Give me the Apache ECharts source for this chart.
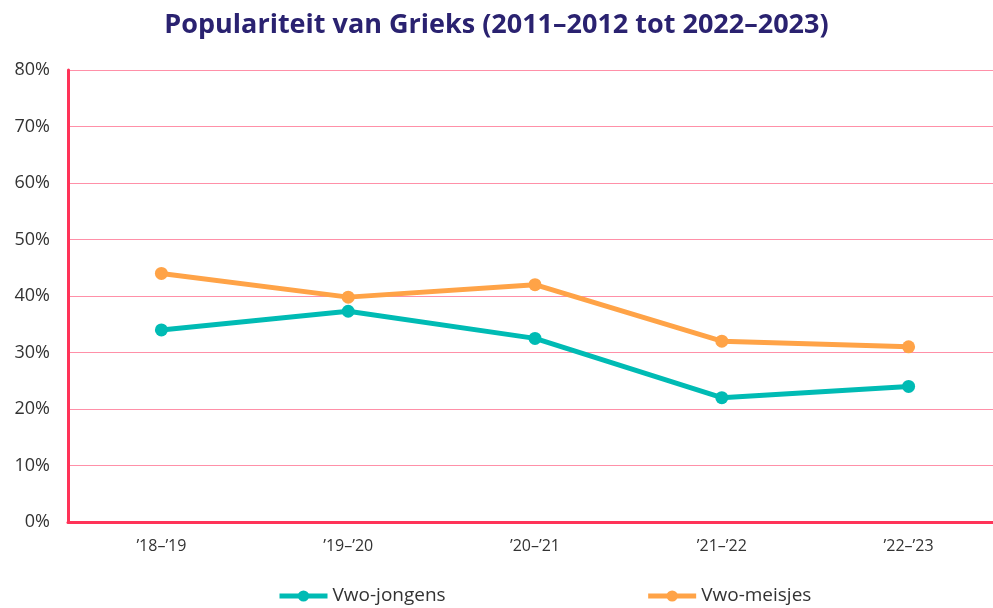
<!DOCTYPE html>
<html>
<head>
<meta charset="utf-8">
<script src="https://cdn.jsdelivr.net/npm/echarts@6/dist/echarts.min.js"></script>
<style>html,body{margin:0;padding:0;background:#fff}#c{width:993px;height:608px}</style>
</head>
<body>
<div id="c"></div>
<script>
const categories = ["’18–’19", "’19–’20", "’20–’21", "’21–’22", "’22–’23"];
const jongens = [34, 37.3, 32.5, 22, 24];
const meisjes = [44, 39.8, 42, 32, 31];
const yTicks = [0, 10, 20, 30, 40, 50, 60, 70, 80];

const chart = echarts.init(document.getElementById('c'), null, {renderer: 'canvas'});
const font = '"Open Sans", Lato, sans-serif';
chart.setOption({
  animation: false,
  title: {
    text: 'Populariteit van Grieks (2011–2012 tot 2022–2023)',
    left: 'center', top: 7,
    textStyle: {fontFamily: font, fontWeight: 'bold', fontSize: 27, color: '#2a2270'}
  },
  grid: {left: 68, width: 934, top: 70, bottom: 86, outerBoundsMode: 'none'},
  legend: {
    top: 584, left: 277, itemGap: 200, itemWidth: 48, itemHeight: 14, padding: 0,
    lineStyle: {width: 5},
    textStyle: {fontFamily: font, fontSize: 19, color: '#333', lineHeight: 24}
  },
  xAxis: {
    type: 'category', data: categories, boundaryGap: true,
    axisLine: {lineStyle: {color: '#ff3358', width: 3}},
    axisTick: {show: false},
    axisLabel: {fontFamily: font, fontSize: 16, color: '#333', margin: 16}
  },
  yAxis: {
    type: 'value', min: yTicks[0], max: yTicks[yTicks.length - 1], interval: 10,
    axisLine: {show: true, lineStyle: {color: '#ff3358', width: 3}},
    axisTick: {show: false},
    axisLabel: {fontFamily: font, fontSize: 18, color: '#333', margin: 18, formatter: v => v + '%'},
    splitLine: {lineStyle: {color: '#ff90a8', width: 1}}
  },
  series: [
    {name: 'Vwo-jongens', type: 'line', data: jongens, symbol: 'circle', symbolSize: 13,
     lineStyle: {width: 5, color: '#00bbb4'}, itemStyle: {color: '#00bbb4'}},
    {name: 'Vwo-meisjes', type: 'line', data: meisjes, symbol: 'circle', symbolSize: 13,
     lineStyle: {width: 5, color: '#ffa347'}, itemStyle: {color: '#ffa347'}}
  ]
});
</script>
</body>
</html>
